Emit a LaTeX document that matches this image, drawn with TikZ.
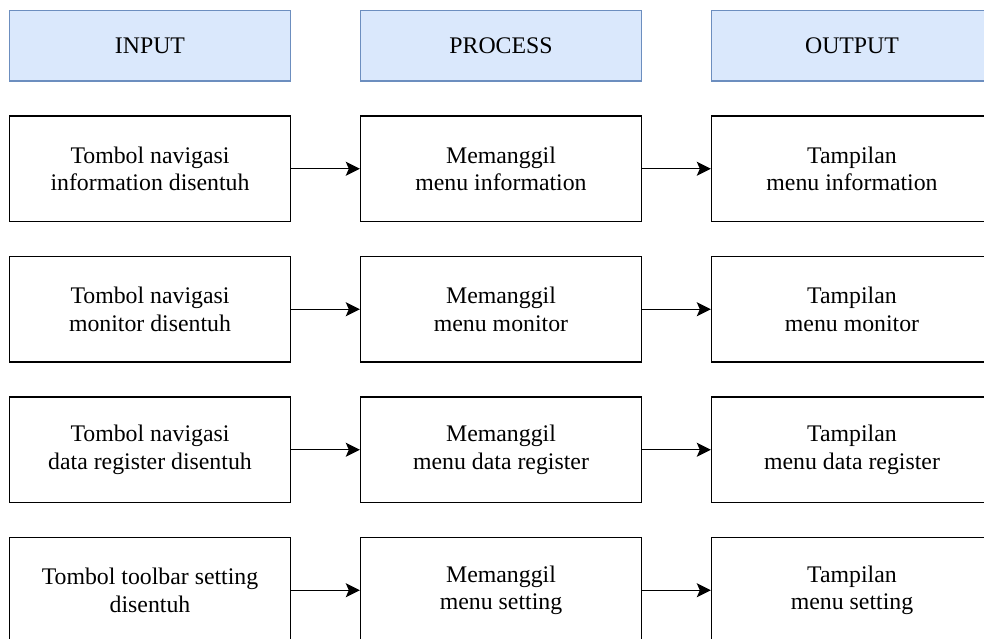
\documentclass[tikz,border=0pt]{standalone}
\usepackage{fontspec}
\setmainfont{Liberation Serif}
\usetikzlibrary{arrows.meta}
\definecolor{headfill}{HTML}{DAE8FC}
\definecolor{headline}{HTML}{6C8EBF}
\tikzset{
  stagebox/.style={draw=black, line width=1.4pt, fill=white, minimum width=281pt,
    minimum height=105.5pt, inner sep=0pt, align=center,
    font=\fontsize{23.8}{27.5}\selectfont},
  headbox/.style={stagebox, draw=headline, fill=headfill, minimum height=70.5pt},
  flow/.style={draw=black, line width=1.4pt, -{Stealth[length=14pt,width=14pt,inset=3pt]}}
}
\begin{document}
\begin{tikzpicture}[x=1pt,y=-1pt]
  \useasboundingbox (0,0) rectangle (984,638);
  \clip (0,0) rectangle (984,638);
  \fill[white] (0,0) rectangle (984,638);

  % column headers
  \node[headbox] (hin)  at (150,45.75) {INPUT};
  \node[headbox] (hpro) at (501,45.75) {PROCESS};
  \node[headbox] (hout) at (852,45.75) {OUTPUT};

  % row 1
  \node[stagebox] (i1) at (150,168.75) {Tombol navigasi\\information disentuh};
  \node[stagebox] (p1) at (501,168.75) {Memanggil\\menu information};
  \node[stagebox] (o1) at (852,168.75) {Tampilan\\menu information};

  % row 2
  \node[stagebox] (i2) at (150,309.25) {Tombol navigasi\\monitor disentuh};
  \node[stagebox] (p2) at (501,309.25) {Memanggil\\menu monitor};
  \node[stagebox] (o2) at (852,309.25) {Tampilan\\menu monitor};

  % row 3
  \node[stagebox] (i3) at (150,449.75) {Tombol navigasi\\data register disentuh};
  \node[stagebox] (p3) at (501,449.75) {Memanggil\\menu data register};
  \node[stagebox] (o3) at (852,449.75) {Tampilan\\menu data register};

  % row 4
  \node[stagebox] (i4) at (150,590.25) {Tombol toolbar setting\\disentuh};
  \node[stagebox] (p4) at (501,590.25) {Memanggil\\menu setting};
  \node[stagebox] (o4) at (852,590.25) {Tampilan\\menu setting};

  % connectors
  \foreach \r in {1,2,3,4} {
    \draw[flow] (i\r.east) -- (p\r.west);
    \draw[flow] (p\r.east) -- (o\r.west);
  }
\end{tikzpicture}
\end{document}
